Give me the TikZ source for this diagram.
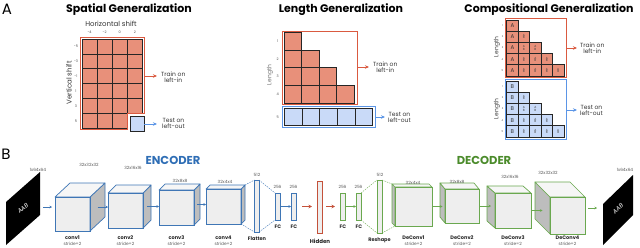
\documentclass[tikz,border=0pt]{standalone}
\usepackage{fontspec}
\setmainfont{Poppins}
\usetikzlibrary{arrows.meta,calc}
\definecolor{cred}{HTML}{E8907A}
\definecolor{rborder}{HTML}{DA5A40}
\definecolor{cblue}{HTML}{C9DAF8}
\definecolor{bborder}{HTML}{5B95E6}
\definecolor{encblue}{HTML}{3F76B5}
\definecolor{encword}{HTML}{2F6EB5}
\definecolor{decgreen}{HTML}{6AA84F}
\definecolor{decword}{HTML}{4B8B2B}
\definecolor{facegrey}{HTML}{EEEEEE}
\definecolor{topgrey}{HTML}{F6F6F6}
\definecolor{sidegrey}{HTML}{BDBDBD}
\newcommand\myfs[1]{\fontsize{#1}{#1}\selectfont}
\newcommand\enccube[7]{%
  \node[encface, minimum width=#4pt, minimum height=#5pt, anchor=north west] (#1) at (#2,#3) {};
  \draw[encline, fill=sidegrey] (#1.north east) -- ++(#6,#7) -- ++(0,#5) -- (#1.south east) -- cycle;
  \draw[encline, fill=topgrey] (#1.north west) -- ++(#6,#7) -- ++(#4,0) -- (#1.north east) -- cycle;
  \draw[encline, line width=1pt] (#1.north west) rectangle (#1.south east);}
\newcommand\deccube[7]{%
  \node[decface, minimum width=#4pt, minimum height=#5pt, anchor=north west] (#1) at (#2,#3) {};
  \draw[decline, fill=sidegrey] (#1.north west) -- ++(#6,#7) -- ++(0,#5) -- (#1.south west) -- cycle;
  \draw[decline, fill=topgrey] (#1.north west) -- ++(#6,#7) -- ++(#4,0) -- (#1.north east) -- cycle;
  \draw[decline, line width=1pt] (#1.north west) rectangle (#1.south east);}
\begin{document}
\begin{tikzpicture}[x=1pt,y=-1pt,
  cell/.style={draw=black!85, line width=0.7pt},
  rcell/.style={cell, fill=cred},
  bcell/.style={cell, fill=cblue},
  rbox/.style={draw=rborder, line width=1pt},
  bbox/.style={draw=bborder, line width=1pt},
  rarr/.style={draw=rborder, line width=0.7pt, -{Stealth[length=4pt,width=3.5pt]}},
  barr/.style={draw=bborder, line width=0.7pt, -{Stealth[length=4pt,width=3.5pt]}},
  lbl/.style={font=\myfs{6}, align=center, inner sep=0pt, text=black!80},
  tick/.style={font=\myfs{3.5}, inner sep=0pt, text=black!70},
  ttl/.style={font=\bfseries\myfs{11}, inner sep=0pt},
  panel/.style={font=\myfs{15}, inner sep=0pt},
  encface/.style={draw=encblue, fill=facegrey, line width=1pt, outer sep=0pt, inner sep=0pt},
  decface/.style={draw=decgreen, fill=facegrey, line width=1pt, outer sep=0pt, inner sep=0pt},
  encline/.style={draw=encblue, line width=0.7pt, line join=round},
  decline/.style={draw=decgreen, line width=0.7pt, line join=round},
  ebar/.style={draw=encblue, fill=facegrey, line width=0.8pt, outer sep=0pt, inner sep=0pt, anchor=north west},
  dbar/.style={draw=decgreen, fill=facegrey, line width=0.8pt, outer sep=0pt, inner sep=0pt, anchor=north west},
  hbar/.style={draw=rborder!90!black, fill=facegrey, line width=0.9pt, outer sep=0pt, inner sep=0pt, anchor=north west},
  earr/.style={draw=encblue, line width=0.5pt, -{Stealth[length=2.5pt,width=2.5pt]}},
  darr/.style={draw=decgreen, line width=0.5pt, -{Stealth[length=2.5pt,width=2.5pt]}},
  harr/.style={draw=rborder!90!black, line width=0.6pt, -{Stealth[length=3.5pt,width=3.5pt]}},
  edash/.style={draw=encblue, dashed, dash pattern=on 1.5pt off 1pt, line width=0.4pt},
  ddash/.style={draw=decgreen, dashed, dash pattern=on 1.5pt off 1pt, line width=0.4pt},
  lname/.style={font=\bfseries\myfs{5}, inner sep=0pt, text=black!85},
  lstride/.style={font=\myfs{4.3}, inner sep=0pt, text=black!65},
  ldim/.style={font=\myfs{4.3}, inner sep=0pt, text=black!65},
  imgtxt/.style={font=\itshape\myfs{6}, text=white, inner sep=0pt}
]
\useasboundingbox (0,0) rectangle (640,247);

% ---------------- Panel A ----------------
\node[panel] (pA) at (7,9) {A};

% Spatial generalization
\node[ttl] (tSp) at (129,9.5) {Spatial Generalization};
\node[font=\myfs{7}, inner sep=0pt, text=black!80] (hs) at (111,24) {Horizontal shift};
\foreach \v [count=\i from 0] in {-4,-2,0,2}
  \node[tick] (hx\i) at ({89.6+15.1*\i},32) {\v};
\node[font=\myfs{7}, inner sep=0pt, text=black!80, rotate=90] (vs) at (69,83) {Vertical shift};
\foreach \v [count=\i from 0] in {-5,-3,-1,1,3,5}
  \node[tick] (vy\i) at (76,{46.5+14.9*\i}) {\v};
\foreach \r in {0,...,4}
  \foreach \c in {0,...,3}
    \draw[rcell] ({82+15.1*\c},{39+14.9*\r}) rectangle ++(15.1,14.9);
\foreach \c in {0,...,2}
  \draw[rcell] ({82+15.1*\c},{39+14.9*5}) rectangle ++(15.1,14.9);
\draw[rbox] (80,37) -- (144.8,37) -- (144.8,113.6) -- (127.8,113.6) -- (127.8,129.6) -- (80,129.6) -- cycle;
\node[bcell, minimum width=14pt, minimum height=15pt, anchor=north west, outer sep=0pt] (spTestCell) at (130,116.5) {};
\coordinate (spR) at (144.8,76);
\node[lbl, anchor=west] (spTrain) at (161,77) {Train on\\left-in};
\node[lbl, anchor=west] (spTest) at (162,123.5) {Test on\\left-out};
\draw[rarr, shorten >=4pt] (spR) -- (spR -| spTrain.west);
\draw[barr, shorten >=5pt] (spTestCell.east) -- (spTestCell.east -| spTest.west);

% Length generalization
\node[ttl] (tLn) at (341,9.5) {Length Generalization};
\draw[rbox] (282,31) rectangle (357,104.5);
\foreach \r in {0,...,3}
  \foreach \c in {0,...,\r}
    \draw[rcell] ({284.3+17.5*\c},{32.3+17.75*\r}) rectangle ++(17.5,17.75);
\draw[bbox] (282,106.5) rectangle (375,127);
\foreach \c in {0,...,4}
  \draw[bcell] ({284.3+17.7*\c},108.3) rectangle ++(17.7,17);
\foreach \v [count=\i from 0] in {1,2,3,4}
  \node[tick] (lt\i) at (277.7,{41.2+17.75*\i}) {\v};
\node[tick] (lt5) at (277.7,116.8) {5};
\node[font=\myfs{6}, inner sep=0pt, text=black!55, rotate=90] (lnLen) at (270,75) {Length};
\coordinate (lnR) at (357,67);
\coordinate (lnB) at (375,117);
\node[lbl, anchor=west] (lnTrain) at (373,67) {Train on\\left-in};
\node[lbl, anchor=west] (lnTest) at (388,117.5) {Test on\\left-out};
\draw[rarr, shorten >=4pt] (lnR) -- (lnR -| lnTrain.west);
\draw[barr, shorten >=3pt] (lnB) -- (lnB -| lnTest.west);

% Compositional generalization
\node[ttl] (tCo) at (549,9.5) {Compositional Generalization};
\draw[rbox] (505,18) rectangle (566,77);
\draw[bbox] (505,79) rectangle (566,139);
\foreach \r in {0,...,4}{
  \foreach \c in {0,...,\r}{
    \draw[rcell] ({506.7+11.46*\c},{20+11.2*\r}) rectangle ++(11.46,11.2);
    \draw[bcell] ({506.7+11.46*\c},{81+11.2*\r}) rectangle ++(11.46,11.2);
  }
  \node[font=\myfs{5.5}, inner sep=0pt, text=black!80] (ca\r) at (512.4,{25.6+11.2*\r}) {A};
  \node[font=\myfs{5.5}, inner sep=0pt, text=black!80] (cb\r) at (512.4,{86.6+11.2*\r}) {B};
  \node[tick, font=\myfs{2.5}] (ctr\r) at (502.5,{25.6+11.2*\r}) {\the\numexpr\r+1\relax};
  \node[tick, font=\myfs{2.5}] (ctb\r) at (502.5,{86.6+11.2*\r}) {\the\numexpr\r+1\relax};
}
\foreach \r in {1,...,4}
  \foreach \c in {1,...,\r}{
    \node[font=\myfs{3}, align=center, inner sep=0pt, text=black!75] (sa\r\c) at ({512.4+11.46*\c},{25.6+11.2*\r}) {A\\[-0.8pt]B};
    \node[font=\myfs{3}, align=center, inner sep=0pt, text=black!75] (sb\r\c) at ({512.4+11.46*\c},{86.6+11.2*\r}) {A\\[-0.8pt]B};
  }
\node[font=\myfs{6}, inner sep=0pt, text=black!75, rotate=90] (coLen1) at (497,47) {Length};
\node[font=\myfs{6}, inner sep=0pt, text=black!75, rotate=90] (coLen2) at (497,109) {Length};
\coordinate (coR) at (566,48);
\coordinate (coB) at (566,110);
\node[lbl, anchor=west] (coTrain) at (580,48) {Train on\\left-in};
\node[lbl, anchor=west] (coTest) at (580,110) {Test on\\left-out};
\draw[rarr, shorten >=3pt] (coR) -- (coR -| coTrain.west);
\draw[barr, shorten >=3pt] (coB) -- (coB -| coTest.west);

% ---------------- Panel B ----------------
\node[panel] (pB) at (6,154) {B};
\node[font=\bfseries\myfs{11.5}, inner sep=0pt, text=encword] (enc) at (173,160) {ENCODER};
\node[font=\bfseries\myfs{11.5}, inner sep=0pt, text=decword] (dec) at (484,160) {DECODER};

% input image
\fill[black] (6,202) -- (40,172) -- (40,215) -- (6,245) -- cycle;
\node[imgtxt, rotate=41] (inTxt) at (23,208.5) {AAB};
\node[ldim] (inDim) at (38,170) {1x64x64};
\coordinate (inR) at (40,207);

% encoder cubes
\enccube{c1}{55}{197}{35}{34}{15}{-14}
\enccube{c2}{108}{193}{35}{35}{8}{-8}
\enccube{c3}{159}{190}{35}{35}{6}{-6}
\enccube{c4}{206}{189}{35}{35}{4}{-4}
\node[ldim] (c1d) at (89,165) {32x32x32};
\node[ldim] (c2d) at (133,168) {32x16x16};
\node[ldim] (c3d) at (180,181) {32x8x8};
\node[ldim] (c4d) at (225,182) {32x4x4};
\foreach \n/\t/\x in {c1/conv1/72.5, c2/conv2/125.5, c3/conv3/176.5, c4/conv4/223.5}{
  \node[lname] (\n n) at (\x,238) {\t};
  \node[lstride] (\n s) at (\x,244) {stride=2};
}
\draw[earr, shorten <=3pt, shorten >=3pt] (inR) -- (inR -| c1.west);
\coordinate (ce1) at ($(c1.east)+(7.5,-7)$);
\coordinate (ce2) at ($(c2.east)+(4,-4)$);
\coordinate (ce3) at ($(c3.east)+(3,-3)$);
\draw[earr] (ce1) -- (ce1 -| c2.west);
\draw[earr] (ce2) -- (ce2 -| c3.west);
\draw[earr] (ce3) -- (ce3 -| c4.west);

% flatten + FC
\node[ebar, minimum width=4.5pt, minimum height=52pt] (flat) at (254.5,180) {};
\node[ebar, minimum width=5pt, minimum height=27pt] (fe1) at (275,193) {};
\node[ebar, minimum width=5pt, minimum height=27pt] (fe2) at (291,193) {};
\draw[edash] ($(c4.north east)+(4,-4)$) -- (flat.north west);
\draw[edash] (c4.south east) -- (flat.south west);
\draw[edash] (flat.north east) -- (fe1.north west);
\draw[edash] (flat.south east) -- (fe1.south west);
\draw[earr] (fe1.east) -- (fe2.west);
\node[ldim] (flatd) at (257,175) {512};
\node[ldim] (fe1d) at (277.5,187) {256};
\node[ldim] (fe2d) at (293.5,187) {256};
\node[lname] (flatn) at (257,239) {Flatten};
\node[lname] (fe1n) at (278,226.5) {FC};
\node[lname] (fe2n) at (294,226.5) {FC};

% hidden
\node[hbar, minimum width=5pt, minimum height=52pt] (hid) at (317,181) {};
\node[lname, font=\bfseries\myfs{5.5}] (hidn) at (320,241) {Hidden};
\draw[harr, shorten <=6pt, shorten >=5pt] (fe2.east) -- (fe2.east -| hid.west);

% decoder FC + reshape
\node[dbar, minimum width=5pt, minimum height=27pt] (fd1) at (340,193) {};
\node[dbar, minimum width=5pt, minimum height=27pt] (fd2) at (356,193) {};
\node[dbar, minimum width=5pt, minimum height=53pt] (resh) at (377,180) {};
\draw[harr, shorten <=4pt, shorten >=5pt] (hid.east |- fd1.west) -- (fd1.west);
\draw[darr] (fd1.east) -- (fd2.west);
\draw[ddash] (fd2.north east) -- (resh.north west);
\draw[ddash] (fd2.south east) -- (resh.south west);
\node[ldim] (fd1d) at (342.5,187) {256};
\node[ldim] (fd2d) at (358.5,187) {256};
\node[ldim] (reshd) at (380,175) {512};
\node[lname] (fd1n) at (343,226.5) {FC};
\node[lname] (fd2n) at (359,226.5) {FC};
\node[lname] (reshn) at (379.5,240) {Reshape};

% decoder cubes
\deccube{d1}{395}{187}{37}{39}{-3}{-3}
\deccube{d2}{445}{189}{34}{34}{-5}{-6}
\deccube{d3}{495}{193}{36}{35}{-8}{-7}
\deccube{d4}{550}{197}{35}{37}{-15}{-15}
\draw[ddash] (resh.north east) -- ($(d1.north west)+(-3,-3)$);
\draw[ddash] (resh.south east) -- (d1.south west);
\node[ldim] (d1d) at (413,183) {32x4x4};
\node[ldim] (d2d) at (457,182) {32x8x8};
\node[ldim] (d3d) at (510,177) {32x16x16};
\node[ldim] (d4d) at (548,173) {32x32x32};
\foreach \n/\t/\x in {d1/DeConv1/413.5, d2/DeConv2/462, d3/DeConv3/513, d4/DeConv4/567.5}{
  \node[lname] (\n n) at (\x,238) {\t};
  \node[lstride] (\n s) at (\x,244) {stride=2};
}
\coordinate (cd2) at ($(d2.west)+(-2.5,-3)$);
\coordinate (cd3) at ($(d3.west)+(-4,-3.5)$);
\coordinate (cd4) at ($(d4.west)+(-7.5,-7.5)$);
\draw[darr] (d1.east) -- (d1.east -| cd2);
\draw[darr] (d2.east) -- (d2.east -| cd3);
\draw[darr] (d3.east) -- (d3.east -| cd4);

% output image
\fill[black] (603,204) -- (633,175) -- (633,215) -- (603,245) -- cycle;
\node[imgtxt, rotate=44] (outTxt) at (618,208.5) {AAB};
\node[ldim] (outDim) at (625,170) {1x64x64};
\coordinate (outL) at (600,208);
\draw[darr, shorten <=3pt, shorten >=3pt] (d4.east |- outL) -- (outL);
\end{tikzpicture}
\end{document}
